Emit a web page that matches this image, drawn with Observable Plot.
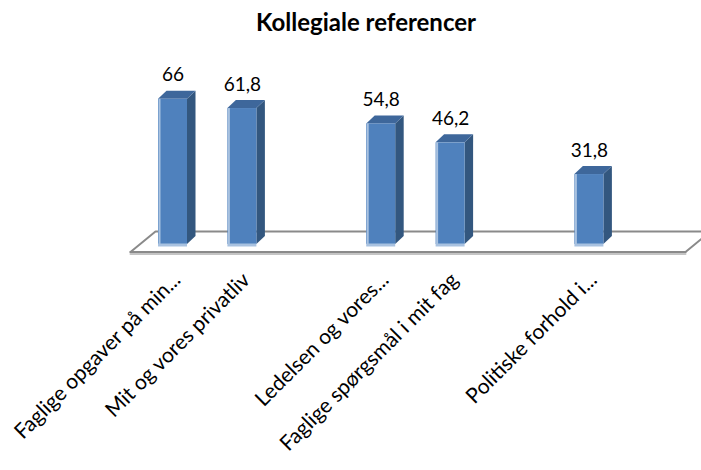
<!DOCTYPE html>
<html>
<head>
<meta charset="utf-8">
<script src="https://cdn.jsdelivr.net/npm/d3@7"></script>
<script src="https://cdn.jsdelivr.net/npm/@observablehq/plot@0.6"></script>
<style>
  body { margin: 0; background: #fff; font-family: Lato, "Open Sans", sans-serif; }
  #title {
    height: 44px; line-height: 44px; text-align: center;
    padding-left: 31px; font-weight: 700; font-size: 24px; color: #000;
  }
  #chart svg { display: block; }
</style>
</head>
<body>
<div id="title">Kollegiale referencer</div>
<div id="chart"></div>
<script>
// Categories along the x axis (empty strings are unused slots in the series)
const categories = [
  "Faglige opgaver på min...",
  "Mit og vores privatliv",
  "",
  "Ledelsen og vores...",
  "Faglige spørgsmål i mit fag",
  "",
  "Politiske forhold i...",
  ""
];
// Percentages per category
const values = [66, 61.8, null, 54.8, 46.2, null, 31.8, null];

// Layout constants (pixels)
const W = 701, H = 426;
const X0 = 172.5, SLOT = 69.4;   // centre of first slot, width of one slot
const Y0 = 200, KY = 2.2;        // baseline, pixels per unit
const xDomain = [-0.5, categories.length - 0.5];
const yDomain = [0, 70];

// Convert pixel offsets into data units so 3D decorations go through the scales
const ux = px => px / SLOT;
const uy = py => py / KY;
const atX = px => (px - X0) / SLOT;
const atY = py => (Y0 - py) / KY;

const bars = values.map((v, i) => ({i, v})).filter(d => d.v != null);
const hw = ux(14.5);              // half width of the front face
const ddx = ux(8.5), ddy = uy(8); // depth of each column

const sideFaces = bars.flatMap(d => [
  {id: d.i, x: d.i + hw, y1: 0, y2: d.v},
  {id: d.i, x: d.i + hw + ddx, y1: ddy, y2: d.v + ddy}
]);
const topFaces = bars.flatMap(d => [
  {id: d.i, x: d.i - hw, y1: d.v, y2: d.v},
  {id: d.i, x: d.i - hw + ddx, y1: d.v, y2: d.v + ddy},
  {id: d.i, x: d.i + hw, y1: d.v, y2: d.v + ddy},
  {id: d.i, x: d.i + hw + ddx, y1: d.v + ddy, y2: d.v + ddy}
]);

// Floor parallelogram
const fLeft = 130, fRight = 685, fFront = 207.5, fDx = 25, fDy = 20.5;
const floorBack = [
  [atX(fLeft), atY(fFront)],
  [atX(fLeft + fDx), atY(fFront - fDy)],
  [atX(fRight + fDx), atY(fFront - fDy)],
  [atX(fRight), atY(fFront)]
];
const floorFront = [
  [atX(fLeft), atY(fFront)],
  [atX(fRight), atY(fFront)]
];

const fmt = v => String(v).replace(".", ",");

const chart = Plot.plot({
  width: W,
  height: H,
  marginTop: 0,
  marginLeft: 0,
  marginRight: 0,
  marginBottom: H - 230,
  style: {fontFamily: "Lato, 'Open Sans', sans-serif", fontSize: "18px", color: "#000", background: "#fff"},
  x: {type: "linear", domain: xDomain, range: [X0 + xDomain[0] * SLOT, X0 + xDomain[1] * SLOT]},
  y: {domain: yDomain, range: [Y0, Y0 - (yDomain[1] - yDomain[0]) * KY], axis: null},
  marks: [
    Plot.line(floorBack, {x: d => d[0], y: d => d[1], stroke: "#8a8a8a", strokeWidth: 2}),
    Plot.line(floorFront, {x: d => d[0], y: d => d[1], stroke: "#c4c4c4", strokeWidth: 2, dy: 2}),
    Plot.line(floorFront, {x: d => d[0], y: d => d[1], stroke: "#8a8a8a", strokeWidth: 2}),
    Plot.areaY(sideFaces, {x: "x", y1: "y1", y2: "y2", z: "id", fill: "#33577f"}),
    Plot.areaY(topFaces, {x: "x", y1: "y1", y2: "y2", z: "id", fill: "#3e679b"}),
    Plot.rectY(bars, {x1: d => d.i - hw, x2: d => d.i + hw, y1: 0, y2: "v", fill: "#4f81bd"}),
    Plot.ruleX(bars, {x: d => d.i - hw, y1: 0, y2: "v", stroke: "#a9c2e0", strokeWidth: 2, dx: 1}),
    Plot.ruleY(bars, {y: 0, x1: d => d.i - hw, x2: d => d.i + hw, stroke: "#a9c2e0", strokeWidth: 3, dy: 0.5}),
    Plot.text(bars, {x: "i", y: "v", text: d => fmt(d.v), dy: -24, fontSize: 19, fill: "#000"}),
    Plot.axisX({
      ticks: bars.map(d => d.i),
      tickFormat: i => categories[i],
      tickRotate: -45,
      tickSize: 0,
      tickPadding: 2,
      textAnchor: "end",
      fontSize: 21,
      dx: 4,
      fill: "#000"
    })
  ]
});
document.getElementById("chart").append(chart);
</script>
</body>
</html>
